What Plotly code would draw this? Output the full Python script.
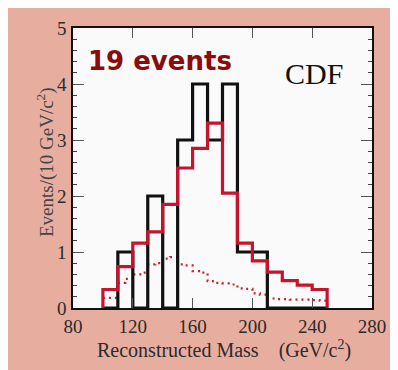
import plotly.graph_objects as go

# ---- data ----
bin_low_10 = [100, 110, 120, 130, 140, 150, 160, 170, 180, 190, 200, 210, 220, 230, 240]
bin_width_10 = 10
data_counts = [0, 1, 0, 2, 0, 3, 4, 3, 4, 1, 1, 0, 0, 0, 0]
expected = [0.33, 0.74, 1.16, 1.36, 1.85, 2.50, 2.85, 3.30, 2.05, 1.16, 0.84, 0.64, 0.49, 0.41, 0.33]

bin_low_5 = [100, 105, 110, 115, 120, 125, 130, 135, 140, 145, 150, 155, 160, 165, 170,
             175, 180, 185, 190, 195, 200, 205, 210, 215, 220, 225, 230, 235, 240, 245]
bin_width_5 = 5
background = [0.18, 0.18, 0.45, 0.52, 0.60, 0.63, 0.78, 0.80, 0.88, 0.91, 0.78, 0.76, 0.66, 0.63, 0.48,
              0.45, 0.44, 0.42, 0.35, 0.34, 0.26, 0.24, 0.17, 0.16, 0.16, 0.15, 0.15, 0.15, 0.14, 0.13]

x_ticks = [80, 120, 160, 200, 240, 280]
y_ticks = [0, 1, 2, 3, 4, 5]


def step_xy(lows, width, vals, close=True):
    if close:
        xs = [lows[0]] + list(lows) + [lows[-1] + width]
        ys = [0] + list(vals) + [0]
    else:
        xs = list(lows) + [lows[-1] + width]
        ys = list(vals) + [vals[-1]]
    return xs, ys


SERIF = "Liberation Serif, Times New Roman, serif"
TXT = "#2b2b2b"

fig = go.Figure()

bx, by = step_xy(bin_low_5, bin_width_5, background, close=False)
fig.add_trace(go.Scatter(x=bx, y=by, mode="lines", line_shape="hv",
                         line=dict(color="#cc2030", width=2.2, dash="2px,4px"), hoverinfo="skip"))

dx, dy = step_xy(bin_low_10, bin_width_10, data_counts)
fig.add_trace(go.Scatter(x=dx, y=dy, mode="lines", line_shape="hv",
                         line=dict(color="#111111", width=3.2), hoverinfo="skip"))

ex, ey = step_xy(bin_low_10, bin_width_10, expected)
fig.add_trace(go.Scatter(x=ex, y=ey, mode="lines", line_shape="hv",
                         line=dict(color="#c4142e", width=3.2), hoverinfo="skip"))

fig.update_layout(
    width=390, height=362,
    margin=dict(l=65, r=26, t=10, b=62),
    paper_bgcolor="#e7aea0",
    plot_bgcolor="#fafafa",
    showlegend=False,
)

fig.update_xaxes(
    range=[80, 280], tickvals=x_ticks, ticktext=[str(v) for v in x_ticks],
    ticks="inside", ticklen=10, tickwidth=1.3, tickcolor="#555",
    showline=True, linecolor="#111", linewidth=1.6, mirror="ticks",
    showgrid=False, zeroline=False,
    tickfont=dict(family=SERIF, size=19, color=TXT),
    ticklabelstandoff=0,
)
fig.update_yaxes(
    range=[0, 5], tickvals=y_ticks, ticktext=[str(v) for v in y_ticks],
    ticks="inside", ticklen=11, tickwidth=1.3, tickcolor="#555",
    showline=True, linecolor="#111", linewidth=1.6, mirror="ticks",
    showgrid=False, zeroline=False,
    tickfont=dict(family=SERIF, size=19, color=TXT),
    ticklabelstandoff=1,
    minor=dict(dtick=0.2, ticks="inside", ticklen=4, tickcolor="#444", tickwidth=1),
)

fig.add_annotation(x=138.2, y=4.41, xref="x", yref="y", text="<b>19 events</b>", showarrow=False,
                   font=dict(family="DejaVu Sans", size=26, color="#8c0b0b"))
fig.add_annotation(x=240.9, y=4.19, xref="x", yref="y", text="CDF", showarrow=False,
                   font=dict(family=SERIF, size=30, color="#111"))
fig.add_annotation(x=0.505, y=-0.148, xref="paper", yref="paper", yanchor="middle",
                   text="Reconstructed Mass\u00a0\u00a0\u00a0 (GeV/c<sup>2</sup>)", showarrow=False,
                   font=dict(family=SERIF, size=20, color=TXT))
fig.add_annotation(x=-0.14, y=0.52, xref="paper", yref="paper", textangle=-90,
                   text="Events/(10 GeV/c<sup>2</sup>)", showarrow=False,
                   font=dict(family=SERIF, size=19, color="#444"))

fig.write_html("out.html")
